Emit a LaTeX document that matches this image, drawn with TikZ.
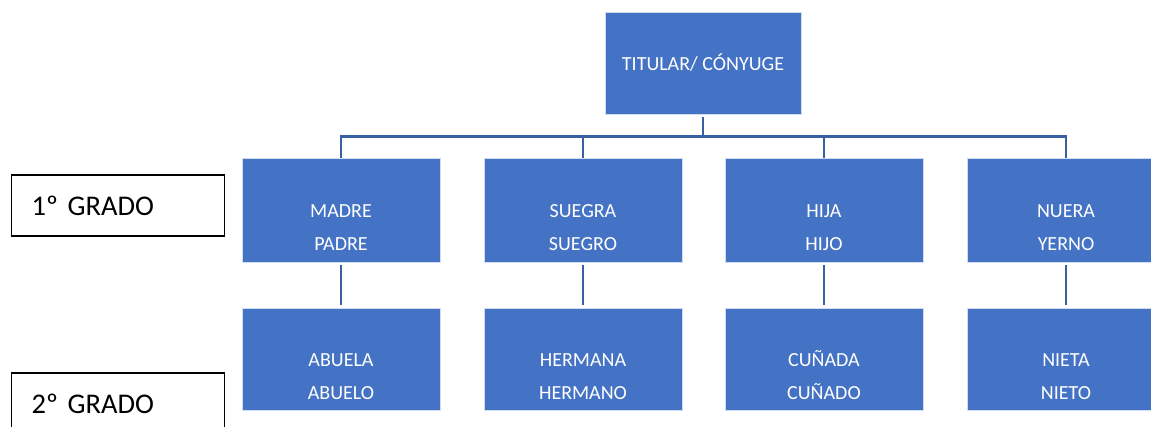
\documentclass[tikz,border=0pt]{standalone}
\usepackage{fontspec}
\setmainfont{Carlito}
\definecolor{boxblue}{HTML}{4472C4}
\definecolor{linkblue}{HTML}{3A5FA5}
\newcommand{\kintext}[2]{\mbox{}\\[15pt]#1\\#2}
\tikzset{
  kin/.style = {fill=boxblue, draw=white!75!boxblue, line width=0.8pt,
    minimum width=198pt, minimum height=104pt, text=white, align=center,
    font=\fontsize{20}{33}\selectfont, inner sep=0pt},
  grado/.style = {draw=black, line width=1.3pt, anchor=west,
    minimum width=213pt, minimum height=61pt, inner xsep=20pt,
    text width=173pt, align=left, font=\fontsize{28.5}{33}\selectfont},
  link/.style = {draw=linkblue, line width=2.4pt}
}
\begin{document}
\begin{tikzpicture}[x=1pt, y=-1pt]
  \useasboundingbox (0,0) rectangle (1151,426);

  \node[kin, minimum width=196pt, minimum height=102pt] (titular) at (703,63) {TITULAR/ CÓNYUGE};

  \node[kin] (madre)  at (341,210)  {\kintext{MADRE}{PADRE}};
  \node[kin] (suegra) at (583,210)  {\kintext{SUEGRA}{SUEGRO}};
  \node[kin] (hija)   at (824,210)  {\kintext{HIJA}{HIJO}};
  \node[kin] (nuera)  at (1066,210) {\kintext{NUERA}{YERNO}};

  \node[kin, minimum height=102pt] (abuela)  at (341,359)  {\kintext{ABUELA}{ABUELO}};
  \node[kin, minimum height=102pt] (hermana) at (583,359)  {\kintext{HERMANA}{HERMANO}};
  \node[kin, minimum height=102pt] (cunada)  at (824,359)  {\kintext{CUÑADA}{CUÑADO}};
  \node[kin, minimum height=102pt] (nieta)   at (1066,359) {\kintext{NIETA}{NIETO}};

  \node[grado] (grado1) at (11,205.5) {1º GRADO};
  \node[grado] (grado2) at (11,403.5) {2º GRADO};

  % tree lines
  \draw[link] ([yshift=-3pt]titular.south) -- ++(0,19) coordinate (bar);
  \foreach \k in {madre,suegra,hija,nuera}
    \draw[link] (bar) -| (\k.north);
  \draw[link, shorten <=3pt, shorten >=3pt] (madre) -- (abuela);
  \draw[link, shorten <=3pt, shorten >=3pt] (suegra) -- (hermana);
  \draw[link, shorten <=3pt, shorten >=3pt] (hija) -- (cunada);
  \draw[link, shorten <=3pt, shorten >=3pt] (nuera) -- (nieta);
\end{tikzpicture}
\end{document}
